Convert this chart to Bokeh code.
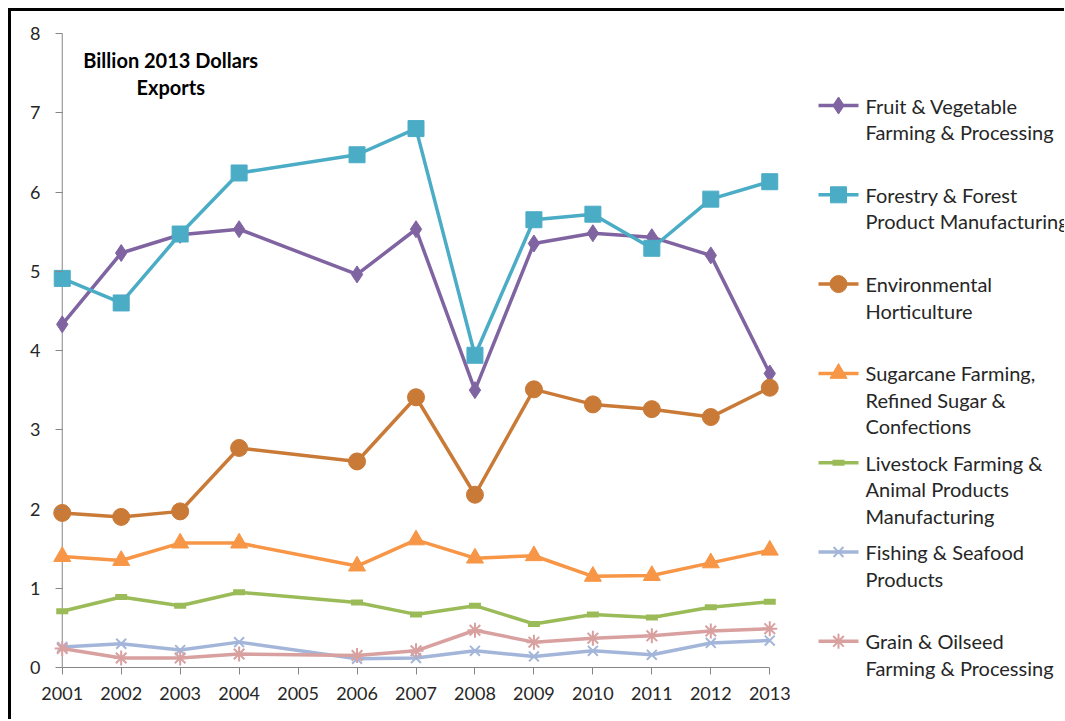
from bokeh.plotting import figure
from bokeh.models import Range1d, FixedTicker, Label, Row, Span
from bokeh.embed import file_html
from bokeh.resources import INLINE

# ---------------- data ----------------
years = [2001, 2002, 2003, 2004, 2006, 2007, 2008, 2009, 2010, 2011, 2012, 2013]
tick_years = list(range(2001, 2014))
y_ticks = list(range(0, 9))

fruit_veg = [4.33, 5.23, 5.46, 5.53, 4.96, 5.53, 3.50, 5.35, 5.48, 5.43, 5.20, 3.71]
forestry = [4.91, 4.60, 5.47, 6.24, 6.47, 6.80, 3.94, 5.65, 5.72, 5.29, 5.91, 6.13]
environmental = [1.95, 1.90, 1.97, 2.77, 2.60, 3.41, 2.18, 3.51, 3.32, 3.26, 3.16, 3.53]
sugarcane = [1.40, 1.35, 1.57, 1.57, 1.28, 1.61, 1.38, 1.41, 1.15, 1.16, 1.32, 1.48]
livestock = [0.71, 0.89, 0.78, 0.95, 0.82, 0.67, 0.78, 0.55, 0.67, 0.63, 0.76, 0.83]
fishing = [0.26, 0.30, 0.22, 0.32, 0.11, 0.12, 0.21, 0.14, 0.21, 0.16, 0.31, 0.34]
grain = [0.24, 0.12, 0.12, 0.17, 0.15, 0.21, 0.47, 0.32, 0.37, 0.40, 0.46, 0.49]

labels = [
    ["Fruit & Vegetable", "Farming & Processing"],
    ["Forestry & Forest", "Product Manufacturing"],
    ["Environmental", "Horticulture"],
    ["Sugarcane Farming,", "Refined Sugar &", "Confections"],
    ["Livestock Farming &", "Animal Products", "Manufacturing"],
    ["Fishing & Seafood", "Products"],
    ["Grain & Oilseed", "Farming & Processing"],
]
series_values = [fruit_veg, forestry, environmental, sugarcane, livestock, fishing, grain]
colors = ["#8064a2", "#4bacc6", "#c97a37", "#f79646", "#9bbb59", "#a3b6da", "#d9a0a0"]
markers = ["diamond", "square", "circle", "triangle", "dash", "x", "asterisk"]
msizes = [17, 16, 17, 17, 12, 14, 15]
mline = [1, 1, 1, 1, 6, 2, 2]

FONT = "Lato"
AXIS_GRAY = "#868686"
TXT = "#262626"
H = 708

# ---------------- main plot ----------------
p = figure(width=783, height=H, output_backend="svg", toolbar_location=None,
           x_range=Range1d(2000.75, 2013.25), y_range=Range1d(0, 8),
           min_border_left=36, min_border_right=10, min_border_top=22, min_border_bottom=H - 656)
p.xgrid.visible = False
p.ygrid.visible = False
p.outline_line_color = None
p.background_fill_color = "white"
p.border_fill_color = "white"

p.xaxis.ticker = FixedTicker(ticks=tick_years)
p.xaxis.bounds = (2001, 2013)
p.yaxis.ticker = FixedTicker(ticks=y_ticks)
for ax in (p.xaxis, p.yaxis):
    ax.axis_line_color = AXIS_GRAY
    ax.axis_line_width = 1
    ax.major_tick_line_color = AXIS_GRAY
    ax.minor_tick_line_color = None
    ax.major_label_text_font = FONT
    ax.major_label_text_font_size = "18px"
    ax.major_label_text_color = TXT
p.xaxis.major_tick_in = 0
p.xaxis.major_tick_out = 7
p.xaxis.major_label_standoff = 12
# y axis drawn through the first category
p.yaxis.axis_line_color = None
p.yaxis.major_tick_in = 15
p.yaxis.major_tick_out = -8
p.yaxis.major_label_standoff = 7
p.add_layout(Span(location=tick_years[0], dimension="height", line_color=AXIS_GRAY,
                  line_width=1, level="underlay"))

for vals, col, mk, ms, mlw in zip(series_values, colors, markers, msizes, mline):
    p.line(years, vals, line_color=col, line_width=3.5, line_join="round")
    p.scatter(years, vals, marker=mk, size=ms, fill_color=col, line_color=col, line_width=mlw)

p.add_layout(Label(x=2002.84, y=7.67, text="Billion 2013 Dollars", text_align="center",
                   text_baseline="middle", text_font=FONT, text_font_style="bold",
                   text_font_size="20px", text_color="black"))
p.add_layout(Label(x=2002.84, y=7.33, text="Exports", text_align="center",
                   text_baseline="middle", text_font=FONT, text_font_style="bold",
                   text_font_size="20px", text_color="black"))

# ---------------- legend panel ----------------
LW = 270
TOP = 11  # page y of the figures' top edge
leg = figure(width=LW, height=H, output_backend="svg", toolbar_location=None,
             x_range=Range1d(0, LW), y_range=Range1d(TOP + H, TOP),
             x_axis_location=None, y_axis_location=None, min_border=0)
try:
    leg.frame_align = False
except Exception:
    pass
leg.xgrid.visible = False
leg.ygrid.visible = False
leg.outline_line_color = None

y0, step, lstep = 105, 89.3, 26.5
for i, (lab, col, mk, ms, mlw) in enumerate(zip(labels, colors, markers, msizes, mline)):
    yy = y0 + i * step
    leg.line([24, 64], [yy, yy], line_color=col, line_width=3.5)
    leg.scatter([44], [yy], marker=mk, size=ms, fill_color=col, line_color=col, line_width=mlw)
    for k, t in enumerate(lab):
        leg.add_layout(Label(x=71, y=yy + k * lstep, text=t, text_font=FONT,
                             text_font_size="20px", text_baseline="middle",
                             text_align="left", text_color=TXT))

layout = Row(children=[p, leg], styles={"margin-left": "8px", "margin-top": "8px",
                                        "border-left": "3px solid black",
                                        "border-top": "3px solid black"})

open("out.html", "w").write(file_html(layout, INLINE))
